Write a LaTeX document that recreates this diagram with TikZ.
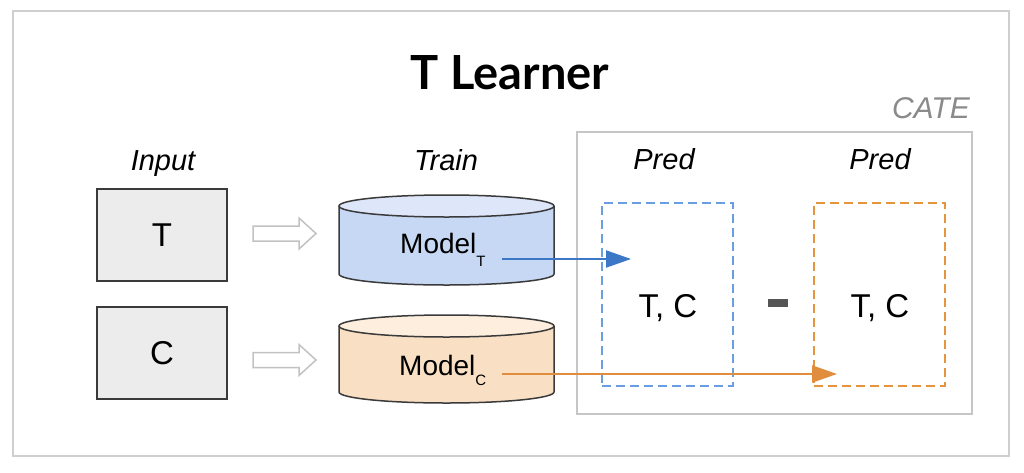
\documentclass[tikz,border=0pt]{standalone}
\usepackage{fontspec}
\setmainfont{Liberation Sans}
\newfontfamily\latofont{Lato}
\usetikzlibrary{arrows.meta}
\definecolor{framegray}{HTML}{CFCFCF}
\definecolor{catebox}{HTML}{C6C6C6}
\definecolor{boxfill}{HTML}{ECECEC}
\definecolor{boxline}{HTML}{3A3A3A}
\definecolor{hollow}{HTML}{C2C2C2}
\definecolor{bluebody}{HTML}{C6D8F4}
\definecolor{bluetop}{HTML}{DDE7F9}
\definecolor{orbody}{HTML}{F9E0C4}
\definecolor{ortop}{HTML}{FDEEDD}
\definecolor{bluearrow}{HTML}{3C78C6}
\definecolor{orarrow}{HTML}{E08E3E}
\definecolor{bluedash}{HTML}{6A9EE2}
\definecolor{ordash}{HTML}{E6953F}
\definecolor{minusgray}{HTML}{555555}
\definecolor{categray}{HTML}{8A8A8A}
\tikzset{
  inbox/.style={draw=boxline, fill=boxfill, line width=1.5pt, minimum width=130pt, minimum height=92pt, inner sep=0pt, font=\fontsize{33}{40}\selectfont},
  colhead/.style={anchor=base, font=\itshape\fontsize{29}{34}\selectfont},
  predbox/.style={line width=2pt, dash pattern=on 9pt off 5pt, minimum width=131pt, minimum height=183pt, inner sep=0pt},
  tclabel/.style={anchor=base, font=\fontsize{33}{40}\selectfont},
  modellabel/.style={anchor=base west, font=\fontsize{28}{34}\selectfont, inner sep=0pt},
  cyl/.style={draw=boxline, line width=1.5pt},
  flow/.style={line width=2pt, -{Triangle[length=25pt,width=17pt]}},
}
\begin{document}
\begin{tikzpicture}[x=1pt,y=-1pt]
\useasboundingbox (0,0) rectangle (1024,472);
\fill[white] (0,0) rectangle (1024,472);
% outer frame
\node[draw=framegray, line width=2pt, minimum width=996pt, minimum height=445pt, inner sep=0pt] (frame) at (511,233.5) {};
% title
\node[anchor=base, font=\latofont\bfseries\fontsize{47}{56}\selectfont, inner sep=0pt] (title) at (510,89) {T Learner};
% CATE box
\node[draw=catebox, line width=2pt, minimum width=395pt, minimum height=282pt, inner sep=0pt] (cate) at (574+200,273) {};
\node[anchor=base east, text=categray, font=\itshape\fontsize{30}{36}\selectfont, inner sep=0pt] (catelabel) at (970,118) {CATE};
% column headers
\node[colhead] (hin) at (163,170) {Input};
\node[colhead] (htr) at (446,170) {Train};
\node[colhead] (hp1) at (664,169) {Pred};
\node[colhead] (hp2) at (880,169) {Pred};
% input boxes
\node[inbox] (T) at (162,235) {T};
\node[inbox] (C) at (162,353) {C};
% hollow arrows
\foreach \cy/\nm in {233.5/ha1,360/ha2}{
  \draw[hollow, line width=1.5pt, fill=white, line join=miter]
    (253,\cy-7.5) -- (299,\cy-7.5) -- (299,\cy-15.5) -- (316,\cy) -- (299,\cy+15.5) -- (299,\cy+7.5) -- (253,\cy+7.5) -- cycle;
}
% cylinders
\foreach \ty/\by/\bf/\tf in {206/274/bluebody/bluetop, 326/392/orbody/ortop}{
  \fill[\bf] (339,\ty) -- (339,\by) arc[start angle=180, end angle=360, x radius=107.5pt, y radius=11pt] -- (554,\ty) -- cycle;
  \draw[cyl] (339,\ty) -- (339,\by) arc[start angle=180, end angle=360, x radius=107.5pt, y radius=11pt] -- (554,\ty);
  \draw[cyl, fill=\tf] (446.5,\ty) ellipse[x radius=107.5pt, y radius=11pt];
}
\node[modellabel] (mT) at (400,253) {Model\raisebox{-13pt}{\fontsize{15}{17}\selectfont T}};
\node[modellabel] (mC) at (399,375) {Model\raisebox{-10pt}{\fontsize{15}{17}\selectfont C}};
% prediction boxes
\node[predbox, draw=bluedash] (p1) at (667.5,294.5) {};
\node[predbox, draw=ordash] (p2) at (879,294.5) {};
\node[tclabel] (tc1) at (668,317) {T, C};
\node[tclabel] (tc2) at (880,317) {T, C};
% minus
\node[fill=minusgray, minimum width=20pt, minimum height=8pt, inner sep=0pt] (minus) at (778,303) {};
% flow arrows
\coordinate (bs) at (502,259);
\coordinate (be) at (631,259);
\coordinate (os) at (502,374);
\coordinate (oe) at (837,374);
\draw[flow, bluearrow] (bs) -- (be);
\draw[flow, orarrow] (os) -- (oe);
\end{tikzpicture}
\end{document}
